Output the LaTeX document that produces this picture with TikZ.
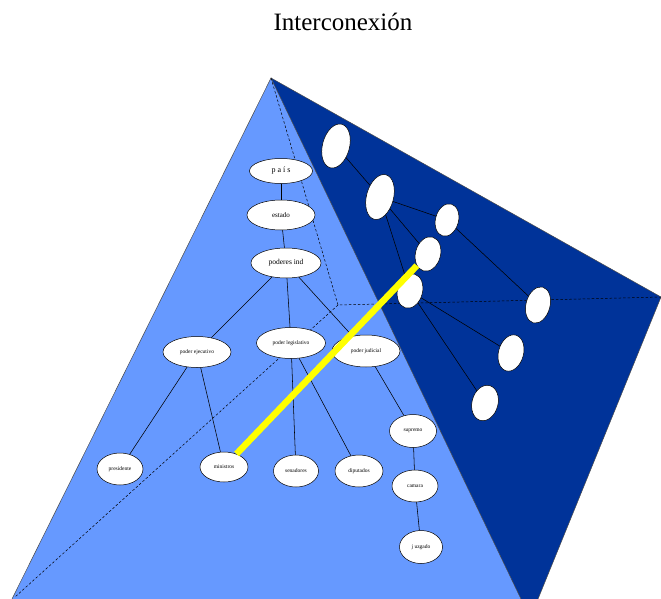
\documentclass[tikz,border=0pt]{standalone}
\usepackage{fontspec}
\setmainfont{Liberation Serif}
\definecolor{faceA}{RGB}{102,153,255}
\definecolor{faceB}{RGB}{0,51,153}
\begin{document}
\begin{tikzpicture}[x=1pt,y=-1pt,
  tnode/.style={ellipse,draw=black,line width=0.5pt,fill=white,inner sep=0pt,
    font=\fontsize{5.5}{6}\selectfont},
  bnode/.style={ellipse,draw=black,line width=0.5pt,fill=white,inner sep=0pt,rotate=-15},
  link/.style={draw=black,line width=0.55pt},
  hidden/.style={draw=black,line width=0.5pt,dash pattern=on 2.5pt off 2pt},
  bridge/.style={draw={rgb,255:red,255;green,255;blue,0},line width=6.5pt}]
\useasboundingbox (0,0) rectangle (661,599);
\usetikzlibrary{shapes.geometric}

% title
\node[font=\fontsize{25}{28}\selectfont] (title) at (343,22) {Interconexión};

% pyramid faces
\coordinate (apex) at (271,78);
\coordinate (bl) at (12,599);
\coordinate (br) at (521,599);
\coordinate (rt) at (661,297);
\coordinate (rb) at (538,599);
\coordinate (back) at (338,305);
\fill[faceA] (apex) -- (bl) -- (br) -- cycle;
\fill[faceB] (apex) -- (rt) -- (rb) -- (br) -- cycle;
\draw[black!70,line width=0.5pt] (bl) -- (apex) -- (br);
\draw[black!70,line width=0.5pt] (apex) -- (rt) -- (rb);

% hidden edges
\draw[hidden] (apex) -- (back) -- (rt);
\draw[hidden] (back) -- (15,597);

% front face tree
\node[tnode,minimum width=63,minimum height=25,font=\fontsize{8}{9}\selectfont] (pais) at (281,171) {p a í s};
\node[tnode,minimum width=68,minimum height=30,font=\fontsize{7}{8}\selectfont] (estado) at (281,215) {estado};
\node[tnode,minimum width=70,minimum height=30,font=\fontsize{7.5}{8}\selectfont] (poderes) at (286,263) {poderes ind};
\node[tnode,minimum width=68,minimum height=31] (ejec) at (197,352) {poder ejecutivo};
\node[tnode,minimum width=69,minimum height=31] (legis) at (291,343) {poder legislativo};
\node[tnode,minimum width=68,minimum height=32] (judic) at (366,351) {poder judicial};
\node[tnode,minimum width=46,minimum height=32] (pres) at (120,469) {presidente};
\node[tnode,minimum width=48,minimum height=30] (mini) at (224,467) {ministros};
\node[tnode,minimum width=45,minimum height=32] (sena) at (296,471) {senadores};
\node[tnode,minimum width=48,minimum height=32] (dipu) at (359,471) {diputados};
\node[tnode,minimum width=47,minimum height=33] (supr) at (413,431) {supremo};
\node[tnode,minimum width=46,minimum height=32] (cama) at (415,486) {camara};
\node[tnode,minimum width=43,minimum height=33] (juzg) at (421,547) {j uzgado};

\draw[link] (pais) -- (estado);
\draw[link] (estado) -- (poderes);
\draw[link] (poderes) -- (ejec);
\draw[link] (poderes) -- (legis);
\draw[link] (poderes) -- (judic);
\draw[link] (ejec) -- (pres);
\draw[link] (ejec) -- (mini);
\draw[link] (legis) -- (sena);
\draw[link] (legis) -- (dipu);
\draw[link] (judic) -- (supr);
\draw[link] (supr) -- (cama);
\draw[link] (cama) -- (juzg);

% side face tree
\node[bnode,minimum width=27,minimum height=45] (d1) at (336,146) {};
\node[bnode,minimum width=27,minimum height=46] (d2) at (380,197) {};
\node[bnode,minimum width=23,minimum height=33] (d3) at (447,220) {};
\node[bnode,minimum width=25,minimum height=35] (d4) at (428,254) {};
\node[bnode,minimum width=25,minimum height=35] (d5) at (410,291) {};
\node[bnode,minimum width=24,minimum height=37] (d6) at (538,305) {};
\node[bnode,minimum width=25,minimum height=37] (d7) at (511,353) {};
\node[bnode,minimum width=26,minimum height=36] (d8) at (485,403) {};

\draw[link] (d1) -- (d2);
\draw[link] (d2) -- (d3);
\draw[link] (d2) -- (d4);
\draw[link] (d2) -- (d5);
\draw[link] (d3) -- (d6);
\draw[link] (d5) -- (d7);
\draw[link] (d5) -- (d8);

% link between the two trees
\draw[bridge] (mini) -- (d4);
\end{tikzpicture}
\end{document}
